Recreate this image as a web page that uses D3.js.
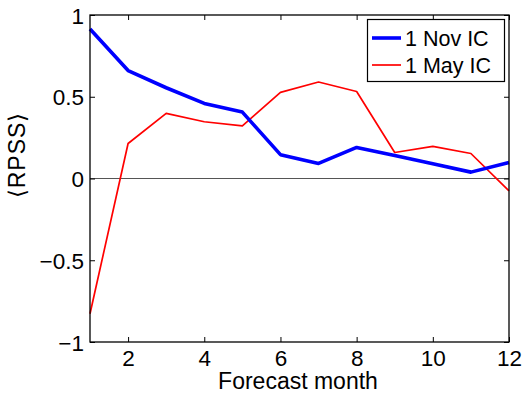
<!DOCTYPE html>
<html>
<head>
<meta charset="utf-8">
<script src="https://cdn.jsdelivr.net/npm/d3@7"></script>
<style>
  body { margin: 0; background: #fff; }
  svg { display: block; }
  text { font-family: "Liberation Sans", Arial, Helvetica, sans-serif; fill: #000; }
</style>
</head>
<body>
<svg id="chart" width="525" height="396"></svg>
<script>
const months = [1, 2, 3, 4, 5, 6, 7, 8, 9, 10, 11, 12];
const novIC = [0.914, 0.66, 0.555, 0.459, 0.406, 0.146, 0.092, 0.19, 0.14, 0.09, 0.039, 0.098];
const mayIC = [-0.827, 0.214, 0.398, 0.347, 0.322, 0.527, 0.59, 0.532, 0.159, 0.196, 0.153, -0.076];
const xTicks = [2, 4, 6, 8, 10, 12];
const yTicks = [-1, -0.5, 0, 0.5, 1];
const seriesNames = ["1 Nov IC", "1 May IC"];
const xLabel = "Forecast month";
const yLabel = "\u27E8RPSS\u27E9";

const svg = d3.select("#chart");
const L = 90, R = 509, T = 15, B = 342;
const x = d3.scaleLinear().domain([1, 12]).range([L, R]);
const y = d3.scaleLinear().domain([-1, 1]).range([B, T]);
const fs = 22.5;
const lfs = 21.5;

// zero line
svg.append("line").attr("x1", L).attr("x2", R).attr("y1", y(0)).attr("y2", y(0))
  .attr("stroke", "#555").attr("stroke-width", 1);

const line = d3.line().x((d, i) => x(months[i])).y(d => y(d));
svg.append("path").datum(mayIC).attr("d", line).attr("fill", "none")
  .attr("stroke", "#ff0000").attr("stroke-width", 1.7).attr("stroke-linejoin", "round");
svg.append("path").datum(novIC).attr("d", line).attr("fill", "none")
  .attr("stroke", "#0000ff").attr("stroke-width", 3.6).attr("stroke-linejoin", "round");

// axes (inward ticks, box)
const tickLen = 5;
const xAxisB = d3.axisBottom(x).tickValues(xTicks).tickSizeInner(-tickLen).tickSizeOuter(0).tickPadding(8);
const gx = svg.append("g").attr("transform", `translate(0,${B})`).call(xAxisB);
const yAxisL = d3.axisLeft(y).tickValues(yTicks).tickSizeInner(-tickLen).tickSizeOuter(0).tickPadding(6)
  .tickFormat(d => (d < 0 ? "\u2212" : "") + Math.abs(d));
const gy = svg.append("g").attr("transform", `translate(${L},0)`).call(yAxisL);
const gxt = svg.append("g").attr("transform", `translate(0,${T})`)
  .call(d3.axisTop(x).tickValues(xTicks).tickSizeInner(-tickLen).tickSizeOuter(0).tickFormat(""));
const gyr = svg.append("g").attr("transform", `translate(${R},0)`)
  .call(d3.axisRight(y).tickValues(yTicks).tickSizeInner(-tickLen).tickSizeOuter(0).tickFormat(""));
[gx, gy, gxt, gyr].forEach(g => {
  g.select(".domain").remove();
  g.selectAll("line").attr("stroke", "#000").attr("stroke-width", 1);
  g.selectAll("text").style("font-size", fs + "px").style("font-family", '"Liberation Sans", Arial, sans-serif').attr("fill", "#000");
});
gx.selectAll("text").attr("dy", "0.71em");
gy.selectAll("text").attr("dy", "0.36em");

svg.append("rect").attr("x", L).attr("y", T).attr("width", R - L).attr("height", B - T)
  .attr("fill", "none").attr("stroke", "#000").attr("stroke-width", 1.3);

// labels
svg.append("text").attr("x", 298).attr("y", 389).attr("text-anchor", "middle")
  .style("font-size", "23px").text(xLabel);
svg.append("text").attr("transform", "translate(25,155) rotate(-90)").attr("text-anchor", "middle")
  .style("font-size", "23px").style("letter-spacing", "1px").text(yLabel);

// legend
const lg = svg.append("g");
lg.append("rect").attr("x", 367.5).attr("y", 19.5).attr("width", 137).attr("height", 62)
  .attr("fill", "#fff").attr("stroke", "#000").attr("stroke-width", 1.2);
const colors = ["#0000ff", "#ff0000"], widths = [3.6, 1.7], rowsY = [38, 65];
seriesNames.forEach((n, i) => {
  lg.append("line").attr("x1", 372).attr("x2", 401).attr("y1", rowsY[i]).attr("y2", rowsY[i])
    .attr("stroke", colors[i]).attr("stroke-width", widths[i]);
  lg.append("text").attr("x", 405).attr("y", rowsY[i]).attr("dy", "0.36em")
    .style("font-size", lfs + "px").text(n);
});
</script>
</body>
</html>
